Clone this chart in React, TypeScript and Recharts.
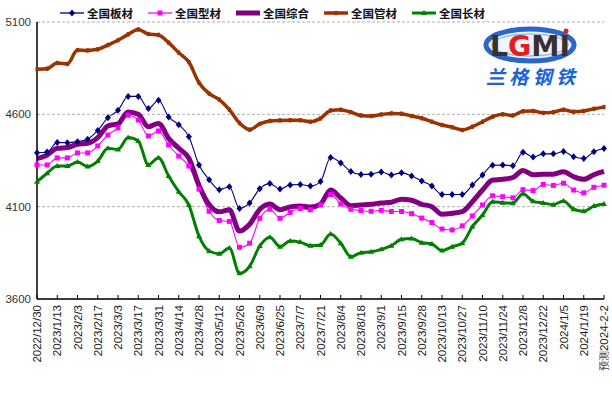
import React from "react";
import { LineChart, Line, XAxis, YAxis, CartesianGrid } from "recharts";

// weekly price index, 2022/12/30 .. 2024/2/2 (last point is the forecast)
const dates = [
  "2022/12/30", "2023/1/6", "2023/1/13", "2023/1/20", "2023/2/3", "2023/2/10", "2023/2/17", "2023/2/24",
  "2023/3/3", "2023/3/10", "2023/3/17", "2023/3/24", "2023/3/31", "2023/4/7", "2023/4/14", "2023/4/21",
  "2023/4/28", "2023/5/5", "2023/5/12", "2023/5/19", "2023/5/26", "2023/6/2", "2023/6/9", "2023/6/16",
  "2023/6/25", "2023/6/30", "2023/7/7", "2023/7/14", "2023/7/21", "2023/7/28", "2023/8/4", "2023/8/11",
  "2023/8/18", "2023/8/25", "2023/9/1", "2023/9/8", "2023/9/15", "2023/9/22", "2023/9/28", "2023/10/8",
  "2023/10/13", "2023/10/20", "2023/10/27", "2023/11/3", "2023/11/10", "2023/11/17", "2023/11/24", "2023/12/1",
  "2023/12/8", "2023/12/15", "2023/12/22", "2023/12/29", "2024/1/5", "2024/1/12", "2024/1/19", "2024/1/26",
  "预测2024-2-2",
];

const plate = [
  4392, 4396, 4448, 4446, 4452, 4465, 4513, 4582, 4622, 4697, 4697, 4631, 4676, 4586, 4544, 4479,
  4326, 4246, 4192, 4208, 4090, 4120, 4197, 4225, 4195, 4218, 4220, 4212, 4236, 4366, 4337, 4290,
  4274, 4276, 4288, 4272, 4283, 4266, 4239, 4212, 4166, 4166, 4166, 4217, 4272, 4324, 4325, 4322,
  4394, 4369, 4386, 4386, 4399, 4370, 4361, 4398, 4415,
];

const section = [
  4326, 4326, 4364, 4364, 4391, 4391, 4429, 4488, 4526, 4595, 4569, 4483, 4510, 4434, 4374, 4320,
  4195, 4075, 4025, 4020, 3880, 3902, 4037, 4086, 4037, 4069, 4090, 4083, 4110, 4165, 4115, 4086,
  4079, 4075, 4080, 4074, 4074, 4062, 4038, 4014, 3979, 3974, 3996, 4050, 4109, 4159, 4154, 4148,
  4192, 4187, 4220, 4215, 4227, 4190, 4175, 4205, 4216,
];

const composite = [
  4360, 4380, 4416, 4420, 4438, 4443, 4474, 4537, 4549, 4613, 4600, 4533, 4551, 4470, 4416, 4362,
  4215, 4111, 4072, 4083, 3968, 4005, 4085, 4114, 4083, 4099, 4104, 4098, 4114, 4190, 4147, 4105,
  4109, 4113, 4120, 4124, 4140, 4135, 4113, 4100, 4059, 4064, 4073, 4127, 4190, 4244, 4248, 4258,
  4296, 4273, 4276, 4276, 4289, 4262, 4248, 4273, 4291,
];

const pipe = [
  4844, 4847, 4878, 4873, 4948, 4946, 4952, 4975, 5001, 5033, 5060, 5035, 5030, 4988, 4934, 4883,
  4771, 4712, 4680, 4625, 4553, 4517, 4548, 4564, 4567, 4568, 4568, 4560, 4578, 4621, 4625, 4612,
  4594, 4591, 4599, 4605, 4603, 4591, 4579, 4560, 4542, 4530, 4515, 4533, 4560, 4587, 4600, 4594,
  4617, 4618, 4608, 4612, 4625, 4614, 4618, 4630, 4639,
];

const longSteel = [
  4235, 4281, 4320, 4320, 4342, 4318, 4347, 4416, 4410, 4475, 4456, 4326, 4365, 4266, 4181, 4109,
  3940, 3860, 3845, 3876, 3739, 3777, 3887, 3935, 3883, 3914, 3908, 3888, 3892, 3952, 3902, 3829,
  3851, 3856, 3869, 3889, 3923, 3927, 3905, 3898, 3862, 3883, 3902, 3992, 4055, 4126, 4121, 4119,
  4170, 4129, 4120, 4111, 4131, 4086, 4075, 4103, 4115,
];

const yTicks = [3600, 4100, 4600, 5100];

const data = dates.map((date, i) => ({
  date,
  plate: plate[i],
  section: section[i],
  composite: composite[i],
  pipe: pipe[i],
  longSteel: longSteel[i],
}));

const NAVY = "#000080";
const MAGENTA = "#ff00ff";
const PURPLE = "#800080";
const BROWN = "#993300";
const GREEN = "#008000";

function Diamond({ cx, cy, index }: any) {
  if (cx == null || cy == null) return null;
  return <path key={`p-${index}`} d={`M${cx},${cy - 3.5}L${cx + 3},${cy}L${cx},${cy + 3.5}L${cx - 3},${cy}Z`} fill={NAVY} />;
}

function Square({ cx, cy, index }: any) {
  if (cx == null || cy == null) return null;
  return <rect key={`s-${index}`} x={cx - 2.5} y={cy - 2.5} width={5} height={5} fill={MAGENTA} />;
}

function Triangle({ cx, cy, index }: any) {
  if (cx == null || cy == null) return null;
  return <path key={`t-${index}`} d={`M${cx},${cy - 3}L${cx + 3},${cy + 2}L${cx - 3},${cy + 2}Z`} fill={GREEN} />;
}

function Dash({ cx, cy, index }: any) {
  if (cx == null || cy == null) return null;
  return <rect key={`b-${index}`} x={cx - 1.5} y={cy - 2.2} width={3} height={4.4} fill={BROWN} />;
}

function DateTick({ x, y, payload }: any) {
  const label: string = payload.value;
  const forecast = label.startsWith("预测");
  return (
    <g transform={`translate(${x},${y})`}>
      <line x1={0} x2={0} y1={0} y2={-4} stroke="#000" />
      <text
        transform="rotate(-90)"
        x={-6}
        y={0}
        dy="0.36em"
        textAnchor="end"
        fontSize={11.5}
        fill="#222"
        fontFamily="'Liberation Sans', Arial, sans-serif"
      >
        {forecast ? (
          <>
            <tspan fontFamily="'Noto Sans CJK SC'" fontSize={10} fill="#444">预测</tspan>
            <tspan>{label.replace("预测", "")}</tspan>
          </>
        ) : (
          label
        )}
      </text>
    </g>
  );
}

const legendItems = [
  { name: "全国板材", color: NAVY, width: 1.3, x: 60, marker: "diamond" },
  { name: "全国型材", color: MAGENTA, width: 1.3, x: 148, marker: "square" },
  { name: "全国综合", color: PURPLE, width: 5, x: 236, marker: "" },
  { name: "全国管材", color: BROWN, width: 3.5, x: 324, marker: "dash" },
  { name: "全国长材", color: GREEN, width: 3, x: 412, marker: "triangle" },
];

function LegendRow() {
  return (
    <svg width={612} height={28} style={{ position: "absolute", left: 0, top: 0 }}>
      {legendItems.map((it) => {
        const cx = it.x + 12;
        const cy = 13;
        return (
          <g key={it.name}>
            <line x1={it.x} x2={it.x + 24} y1={cy} y2={cy} stroke={it.color} strokeWidth={it.width} />
            {it.marker === "diamond" && <path d={`M${cx},${cy - 3.5}L${cx + 3},${cy}L${cx},${cy + 3.5}L${cx - 3},${cy}Z`} fill={it.color} />}
            {it.marker === "square" && <rect x={cx - 2.5} y={cy - 2.5} width={5} height={5} fill={it.color} />}
            {it.marker === "dash" && <rect x={cx - 1.5} y={cy - 2.2} width={3} height={4.4} fill={it.color} />}
            {it.marker === "triangle" && <path d={`M${cx},${cy - 3}L${cx + 3},${cy + 2}L${cx - 3},${cy + 2}Z`} fill={it.color} />}
            <text x={it.x + 27} y={cy + 4.5} fontSize={11.5} fontWeight="bold" fill="#111" fontFamily="'Noto Sans CJK SC', sans-serif">
              {it.name}
            </text>
          </g>
        );
      })}
    </svg>
  );
}

function Logo() {
  return (
    <svg width={612} height={100} style={{ position: "absolute", left: 0, top: 0 }}>
      <ellipse cx={530} cy={45} rx={44} ry={16} fill="#eef4fc" stroke="#2b66c8" strokeWidth={5} />
      <ellipse cx={530} cy={45} rx={38} ry={11} fill="none" stroke="#9cc0ee" strokeWidth={1.5} />
      <text x={530} y={56} textAnchor="middle" fontSize={29} fontWeight="bold" fontFamily="'DejaVu Sans', sans-serif" textLength={80} lengthAdjust="spacingAndGlyphs">
        <tspan fill="#3a3030">L</tspan>
        <tspan fill="#e0201c">G</tspan>
        <tspan fill="#3a3030">M</tspan>
        <tspan fill="#3a3030">I</tspan>
      </text>
      <circle cx={566} cy={31} r={2.5} fill="#e0201c" />
      <text x={486} y={84} fontSize={19} fontWeight="bold" fontStyle="italic" fill="#1a62d8" fontFamily="'Noto Sans CJK SC', sans-serif" textLength={89} lengthAdjust="spacing">
        兰格钢铁
      </text>
    </svg>
  );
}

export default function App() {
  return (
    <div style={{ position: "absolute", left: 0, top: 0, width: 612, height: 395, background: "#fff" }}>
      <LineChart width={612} height={395} data={data} margin={{ top: 22, right: 8, bottom: 0, left: 0 }}>
        <CartesianGrid vertical={false} stroke="#b0b0b0" strokeDasharray="3 2" />
        <XAxis
          dataKey="date"
          interval={1}
          height={96}
          tickSize={0}
          tickMargin={0}
          tickLine={false}
          axisLine={{ stroke: "#000", strokeWidth: 1.5 }}
          tick={<DateTick />}
        />
        <YAxis
          domain={[3600, 5100]}
          ticks={yTicks}
          width={37}
          tickSize={0}
          tickMargin={6}
          tickLine={false}
          axisLine={{ stroke: "#000", strokeWidth: 1.5 }}
          tick={{ fontSize: 11.5, fill: "#333", fontFamily: "'Liberation Sans', Arial, sans-serif" }}
        />
        <Line type="monotone" dataKey="plate" stroke={NAVY} strokeWidth={1.1} dot={Diamond} isAnimationActive={false} />
        <Line type="monotone" dataKey="section" stroke={MAGENTA} strokeWidth={1.1} dot={Square} isAnimationActive={false} />
        <Line type="monotone" dataKey="composite" stroke={PURPLE} strokeWidth={5} dot={false} isAnimationActive={false} />
        <Line type="monotone" dataKey="pipe" stroke={BROWN} strokeWidth={3.5} dot={Dash} isAnimationActive={false} />
        <Line type="monotone" dataKey="longSteel" stroke={GREEN} strokeWidth={3} dot={Triangle} isAnimationActive={false} />
      </LineChart>
      <LegendRow />
      <Logo />
    </div>
  );
}
